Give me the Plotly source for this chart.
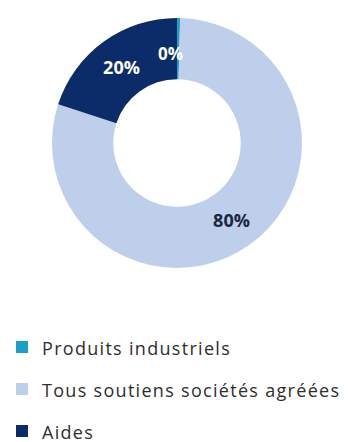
import math
import plotly.graph_objects as go

categories = ["Produits industriels", "Tous soutiens sociétés agréées", "Aides"]
values = [0.4, 79.6, 20.0]
slice_labels = ["", "80%", "20%"]
tiny_label = "0%"
colors = ["#1aa0c6", "#bdcfea", "#0c2c69"]

# the page body adds an 8px margin, so the figure is a bit smaller than the window
W, H = 342, 434
hole = 0.51
dom_x = [44 / W, 294 / W]
dom_y = [(H - 260) / H, (H - 10) / H]

legend_names = [
    f"<span style='font-size:18px;letter-spacing:1.3px;baseline-shift:4px'>{c}</span>"
    for c in categories
]

fig = go.Figure()
fig.add_trace(go.Pie(
    labels=legend_names,
    values=values,
    text=slice_labels,
    textinfo="text",
    textposition="inside",
    insidetextorientation="horizontal",
    sort=False,
    direction="clockwise",
    rotation=0,
    hole=hole,
    marker=dict(colors=colors, line=dict(width=0)),
    textfont=dict(family="Open Sans", size=18, color=["#ffffff", "#1c2640", "#ffffff"], weight="bold"),
    domain=dict(x=dom_x, y=dom_y),
    hoverinfo="skip",
))

# label of the tiny first slice, placed at its mid-angle
total = sum(values)
mid_angle = math.radians(0.5 * values[0] / total * 360)
cx = (dom_x[0] + dom_x[1]) / 2
cy = (dom_y[0] + dom_y[1]) / 2
r_out_px = (dom_y[1] - dom_y[0]) * H / 2
r_mid_px = r_out_px * (1 + hole) / 2 * 0.95
ax = cx + r_mid_px * math.sin(mid_angle) / W
ay = cy + r_mid_px * math.cos(mid_angle) / H
fig.add_annotation(
    x=ax + 7 / W, y=ay, xref="paper", yref="paper",
    text=f"<b>{tiny_label}</b>", showarrow=False, xanchor="right", yanchor="middle",
    font=dict(family="Open Sans", size=17, color="#ffffff"),
)

fig.update_layout(
    width=W, height=H,
    margin=dict(l=0, r=0, t=0, b=0, autoexpand=False),
    paper_bgcolor="#ffffff",
    showlegend=True,
    legend=dict(
        x=-6 / W, y=(H - 313) / H, xanchor="left", yanchor="top",
        font=dict(family="Open Sans", size=30, color="#2e2e2e"),
        bgcolor="rgba(0,0,0,0)",
        traceorder="normal",
    ),
)

fig.write_html("out.html")
